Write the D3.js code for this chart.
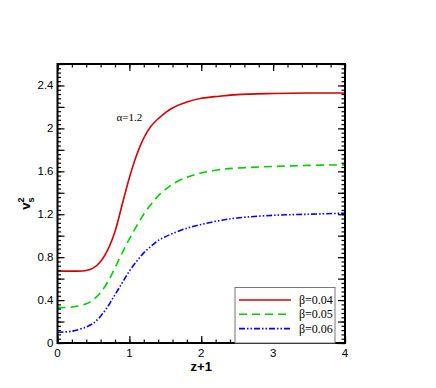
<!DOCTYPE html>
<html lang="en">
  <head>
    <meta charset="UTF-8" />
    <title>v_s^2 vs z+1</title>
    <style>
      body { margin: 0; background: #fff; }
      svg { display: block; }
    </style>
  </head>
  <body>
    <script src="https://cdn.jsdelivr.net/npm/d3@7"></script>
    <script>
      // valeurs
      const zValues = [0, 0.2, 0.4, 0.5, 0.6, 0.7, 0.8, 0.9, 1.0, 1.1, 1.2, 1.3, 1.4, 1.5, 1.6, 1.8, 2.0, 2.25, 2.5, 3.0, 3.5, 4.0];
      const beta004 = [0.67, 0.67, 0.675, 0.70, 0.76, 0.87, 1.04, 1.29, 1.54, 1.75, 1.91, 2.02, 2.09, 2.145, 2.19, 2.245, 2.28, 2.30, 2.315, 2.325, 2.33, 2.33];
      const beta005 = [0.33, 0.335, 0.365, 0.405, 0.47, 0.57, 0.70, 0.84, 0.97, 1.09, 1.20, 1.29, 1.37, 1.43, 1.48, 1.545, 1.585, 1.615, 1.63, 1.645, 1.655, 1.66];
      const beta006 = [0.10, 0.11, 0.15, 0.185, 0.25, 0.34, 0.45, 0.56, 0.67, 0.76, 0.84, 0.90, 0.955, 0.99, 1.02, 1.07, 1.105, 1.14, 1.165, 1.19, 1.20, 1.21];
      const seriesNames = ["β=0.04", "β=0.05", "β=0.06"];
      const xTickLabels = [0, 1, 2, 3, 4];
      const yTickLabels = [0, 0.4, 0.8, 1.2, 1.6, 2, 2.4];

      const width = 436, height = 388;
      const marge = { left: 57.5, right: 91, top: 64, bottom: 45 };

      const svg = d3.select("body").append("svg")
        .attr("width", width)
        .attr("height", height);

      const x = d3.scaleLinear().domain([0, 4]).range([marge.left, width - marge.right]);
      const y = d3.scaleLinear().domain([0, 2.6]).range([height - marge.bottom, marge.top]);

      const series = [
        { nom: seriesNames[0], valeurs: beta004, couleur: "#d40000", tirets: null },
        { nom: seriesNames[1], valeurs: beta005, couleur: "#00cc00", tirets: "8,5" },
        { nom: seriesNames[2], valeurs: beta006, couleur: "#0000ff", tirets: "6,2,1.5,2,1.5,2" }
      ];

      const ligne = d3.line()
        .x((d) => x(d[0]))
        .y((d) => y(d[1]))
        .curve(d3.curveCatmullRom.alpha(0.5));

      const graph = svg.append("g");
      graph.append("defs").append("clipPath").attr("id", "zone")
        .append("rect")
        .attr("x", x(0)).attr("y", y(2.6))
        .attr("width", x(4) - x(0)).attr("height", y(0) - y(2.6));

      const courbes = graph.append("g").attr("clip-path", "url(#zone)");
      series.forEach((s) => {
        courbes.append("path")
          .datum(zValues.map((z, i) => [z, s.valeurs[i]]))
          .attr("d", ligne)
          .attr("fill", "none")
          .attr("stroke", s.couleur)
          .attr("stroke-width", 1.6)
          .attr("stroke-dasharray", s.tirets);
      });

      // axes avec graduations vers l'interieur sur les quatre cotes
      const xMin = d3.range(0, 4.0001, 0.2);
      const yMin = d3.range(0, 2.6001, 0.04);
      const yMaj = d3.range(0, 2.6001, 0.2);

      function graduer(axe, ticks, taille) {
        return axe.tickValues(ticks).tickSize(taille).tickFormat("");
      }

      const bas = svg.append("g").attr("transform", `translate(0,${y(0)})`);
      bas.call(graduer(d3.axisBottom(x), xMin, -3.5));
      bas.append("g").call(graduer(d3.axisBottom(x), xTickLabels, -7));
      const haut = svg.append("g").attr("transform", `translate(0,${y(2.6)})`);
      haut.call(graduer(d3.axisTop(x), xMin, -3.5));
      haut.append("g").call(graduer(d3.axisTop(x), xTickLabels, -7));
      const gauche = svg.append("g").attr("transform", `translate(${x(0)},0)`);
      gauche.call(graduer(d3.axisLeft(y), yMin, -3.5));
      gauche.append("g").call(graduer(d3.axisLeft(y), yMaj, -7));
      const droite = svg.append("g").attr("transform", `translate(${x(4)},0)`);
      droite.call(graduer(d3.axisRight(y), yMin, -3.5));
      droite.append("g").call(graduer(d3.axisRight(y), yMaj, -7));

      svg.selectAll(".domain").remove();
      svg.selectAll(".tick line").attr("stroke", "#000").attr("stroke-width", 1.2);

      svg.append("rect")
        .attr("x", x(0)).attr("y", y(2.6))
        .attr("width", x(4) - x(0)).attr("height", y(0) - y(2.6))
        .attr("fill", "none")
        .attr("stroke", "#000")
        .attr("stroke-width", 2);

      // libelles des graduations
      svg.append("g").selectAll("text").data(xTickLabels).enter().append("text")
        .attr("x", (d) => x(d))
        .attr("y", y(0) + 14)
        .attr("text-anchor", "middle")
        .attr("font-family", "Liberation Sans, Arial, sans-serif")
        .attr("font-size", 11.5)
        .text((d) => d);

      svg.append("g").selectAll("text").data(yTickLabels).enter().append("text")
        .attr("x", x(0) - 4)
        .attr("y", (d) => y(d) + 4)
        .attr("text-anchor", "end")
        .attr("font-family", "Liberation Sans, Arial, sans-serif")
        .attr("font-size", 11.5)
        .text((d) => d);

      // titres des axes
      svg.append("text")
        .attr("x", x(2))
        .attr("y", y(0) + 28)
        .attr("text-anchor", "middle")
        .attr("font-family", "Liberation Sans, Arial, sans-serif")
        .attr("font-weight", "bold")
        .attr("font-size", 13)
        .text("z+1");

      const titreY = svg.append("text")
        .attr("transform", `translate(30,${y(1.3)}) rotate(-90)`)
        .attr("text-anchor", "middle")
        .attr("font-family", "Liberation Sans, Arial, sans-serif")
        .attr("font-weight", "bold")
        .attr("font-size", 13);
      titreY.append("tspan").text("v");
      titreY.append("tspan").attr("font-size", 9).attr("dy", -6).text("2");
      titreY.append("tspan").attr("font-size", 9).attr("dx", -5).attr("dy", 10).text("s");

      svg.append("text")
        .attr("x", x(0.82))
        .attr("y", y(2.07))
        .attr("font-family", "Liberation Serif, Times New Roman, serif")
        .attr("font-size", 11)
        .text("α=1.2");

      // legende
      const legende = svg.append("g");
      legende.append("rect")
        .attr("x", 235).attr("y", 287.5)
        .attr("width", 100).attr("height", y(0) - 287.5)
        .attr("fill", "#fff")
        .attr("stroke", "#777")
        .attr("stroke-width", 1);
      series.forEach((s, i) => {
        const ly = 300 + i * 14.3;
        legende.append("line")
          .attr("x1", 239).attr("x2", 291)
          .attr("y1", ly).attr("y2", ly)
          .attr("stroke", s.couleur)
          .attr("stroke-width", 1.6)
          .attr("stroke-dasharray", s.tirets);
        legende.append("text")
          .attr("x", 299)
          .attr("y", ly + 4)
          .attr("font-family", "Liberation Serif, Times New Roman, serif")
          .attr("font-size", 12)
          .text(s.nom);
      });
    </script>
  </body>
</html>
